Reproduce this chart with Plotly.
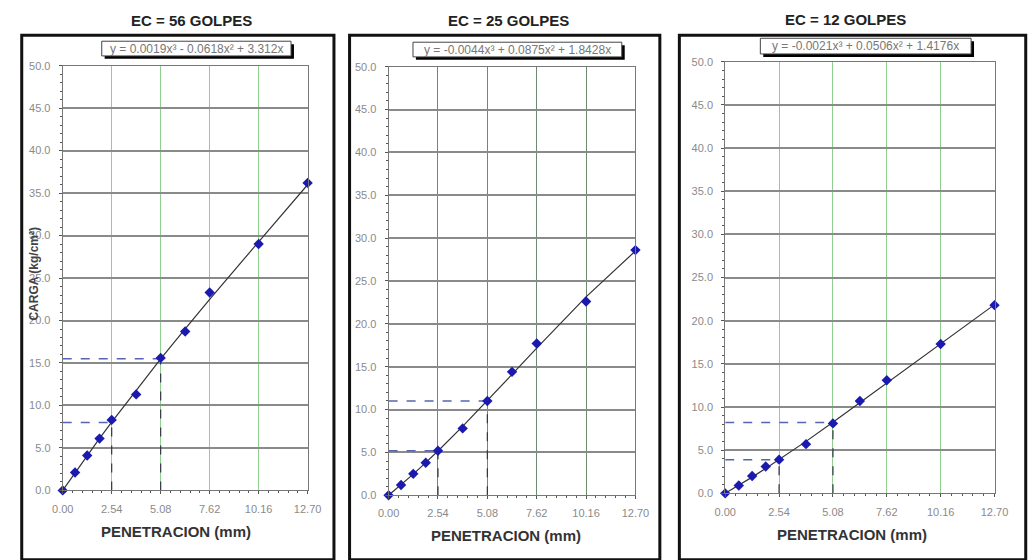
import numpy as np
import plotly.graph_objects as go

W, H = 1029, 560

# ---------------- data ----------------
penetracion = [0.00, 0.64, 1.27, 1.91, 2.54, 3.81, 5.08, 6.35, 7.62, 10.16, 12.70]
carga_56 = [0.0, 2.1, 4.1, 6.1, 8.3, 11.3, 15.6, 18.7, 23.3, 29.0, 36.2]
carga_25 = [0.0, 1.2, 2.5, 3.8, 5.2, 7.8, 11.0, 14.4, 17.7, 22.6, 28.6]
carga_12 = [0.0, 0.9, 2.0, 3.1, 3.9, 5.7, 8.1, 10.7, 13.1, 17.3, 21.8]

coef_56 = [0.0019, -0.0618, 3.312, 0.0]
coef_25 = [-0.0044, 0.0875, 1.8428, 0.0]
coef_12 = [-0.0021, 0.0506, 1.4176, 0.0]

guide_x = [2.54, 5.08]
guide_56 = [8.0, 15.5]
guide_25 = [5.2, 11.0]
guide_12 = [3.9, 8.2]

titles = ["EC = 56 GOLPES", "EC = 25 GOLPES", "EC = 12 GOLPES"]
equations = ["y = 0.0019x³ - 0.0618x² + 3.312x",
             "y = -0.0044x³ + 0.0875x² + 1.8428x",
             "y = -0.0021x³ + 0.0506x² + 1.4176x"]
x_tickvals = [0.00, 2.54, 5.08, 7.62, 10.16, 12.70]
y_tickvals = [0, 5, 10, 15, 20, 25, 30, 35, 40, 45, 50]
x_title = "PENETRACION (mm)"
y_title = "CARGA (kg/cm²)"

# ---------------- layout helpers (pixel geometry) ----------------
def px(x):
    return x / W

def py(y):
    return 1 - y / H

plots = [  # left, right, top, bottom of plot area in px
    (53, 304, 61, 495),
    (387, 640, 62, 500),
    (732, 1008, 57, 498),
]
boxes = [(11, 30, 331, 566), (347, 30, 665, 566), (685, 30, 1040, 566)]
eq_boxes = [(93, 36, 287, 51), (412, 37, 626, 52), (768, 33, 984, 49)]
title_pos = [(185, 15), (510, 15), (855, 14)]
xtitle_pos = [(169, 537), (507, 541), (862, 540)]
vgrid_colors = ["#8fd08f", "#6d8a6d", "#8fd08f"]

series = [carga_56, carga_25, carga_12]
coefs = [coef_56, coef_25, coef_12]
guides = [guide_56, guide_25, guide_12]

fig = go.Figure()
FONT = "Liberation Sans, Arial, sans-serif"
shapes = []
annotations = []

for i in range(3):
    xa = "x" if i == 0 else f"x{i+1}"
    ya = "y" if i == 0 else f"y{i+1}"
    l, r, t, b = plots[i]
    axis_common = dict(showline=True, linecolor="#777", linewidth=1, mirror=True,
                       ticks="outside", ticklen=3, tickcolor="#555",
                       tickfont=dict(family=FONT, size=11, color="#8a8a8a"),
                       zeroline=False)
    fig.update_layout(**{
        ("xaxis" if i == 0 else f"xaxis{i+1}"): dict(
            domain=[px(l), px(r)], range=[0, 12.70], anchor=ya,
            tickvals=x_tickvals, tickformat=".2f", ticklabelstandoff=5,
            showgrid=True, gridcolor=vgrid_colors[i], gridwidth=1,
            minor=dict(dtick=0.508, tick0=0, ticks="outside", ticklen=2, tickcolor="#555", showgrid=False),
            **axis_common),
        ("yaxis" if i == 0 else f"yaxis{i+1}"): dict(
            domain=[py(b), py(t)], range=[0, 50], anchor=xa,
            tickvals=y_tickvals, tickformat=".1f", ticklabelstandoff=6,
            showgrid=True, gridcolor="#8a8a8a", gridwidth=1.5,
            minor=dict(dtick=1, tick0=0, ticks="outside", ticklen=2, tickcolor="#555", showgrid=False),
            **axis_common),
    })

    ys = series[i]
    # guide dashed lines
    for gx, gy in zip(guide_x, guides[i]):
        fig.add_trace(go.Scatter(x=[0, gx], y=[gy, gy], xaxis=xa, yaxis=ya, mode="lines",
                                 line=dict(color="#5565b0", width=1.5, dash="dash"),
                                 showlegend=False, hoverinfo="skip"))
        fig.add_trace(go.Scatter(x=[gx, gx], y=[0, gy], xaxis=xa, yaxis=ya, mode="lines",
                                 line=dict(color="#333344", width=1.2, dash="dash"),
                                 showlegend=False, hoverinfo="skip"))
    # trend line
    fit = np.polyval(coefs[i], penetracion)
    fig.add_trace(go.Scatter(x=penetracion, y=fit, xaxis=xa, yaxis=ya, mode="lines",
                             line=dict(color="#333333", width=1.2),
                             showlegend=False, hoverinfo="skip"))
    # points
    fig.add_trace(go.Scatter(x=penetracion, y=ys, xaxis=xa, yaxis=ya, mode="markers",
                             marker=dict(symbol="diamond", size=8, color="#1a1ab0"),
                             showlegend=False, cliponaxis=False))

    # panel border
    bx0, by0, bx1, by1 = boxes[i]
    shapes.append(dict(type="rect", xref="paper", yref="paper",
                       x0=px(bx0), x1=px(bx1), y0=py(by1), y1=py(by0),
                       line=dict(color="#111", width=3), fillcolor="rgba(0,0,0,0)", layer="above"))
    # equation box with shadow
    ex0, ey0, ex1, ey1 = eq_boxes[i]
    shapes.append(dict(type="rect", xref="paper", yref="paper",
                       x0=px(ex0 + 3), x1=px(ex1 + 3), y0=py(ey1 + 3), y1=py(ey0 + 3),
                       line=dict(color="#000", width=0), fillcolor="#000", layer="above"))
    shapes.append(dict(type="rect", xref="paper", yref="paper",
                       x0=px(ex0), x1=px(ex1), y0=py(ey1), y1=py(ey0),
                       line=dict(color="#444", width=1), fillcolor="#fff", layer="above"))
    annotations.append(dict(x=px((ex0 + ex1) / 2), y=py((ey0 + ey1) / 2), xref="paper", yref="paper",
                            text=equations[i], showarrow=False, xanchor="center", yanchor="middle",
                            font=dict(family=FONT, size=12, color="#777")))
    # titles
    tx, ty = title_pos[i]
    annotations.append(dict(x=px(tx), y=py(ty), xref="paper", yref="paper", text="<b>" + titles[i] + "</b>",
                            showarrow=False, xanchor="center", yanchor="middle",
                            font=dict(family=FONT, size=15, color="#222")))
    ax_, ay_ = xtitle_pos[i]
    annotations.append(dict(x=px(ax_), y=py(ay_), xref="paper", yref="paper", text="<b>" + x_title + "</b>",
                            showarrow=False, xanchor="center", yanchor="middle",
                            font=dict(family=FONT, size=15, color="#333")))

annotations.append(dict(x=px(24), y=py(273), xref="paper", yref="paper", text="<b>" + y_title + "</b>",
                        showarrow=False, textangle=-90, xanchor="center", yanchor="middle",
                        font=dict(family=FONT, size=12, color="#444")))

fig.update_layout(width=W, height=H, margin=dict(l=0, r=0, t=0, b=0),
                  paper_bgcolor="white", plot_bgcolor="white",
                  shapes=shapes, annotations=annotations, showlegend=False,
                  font=dict(family=FONT))

fig.write_html("out.html", config={"displayModeBar": False})
